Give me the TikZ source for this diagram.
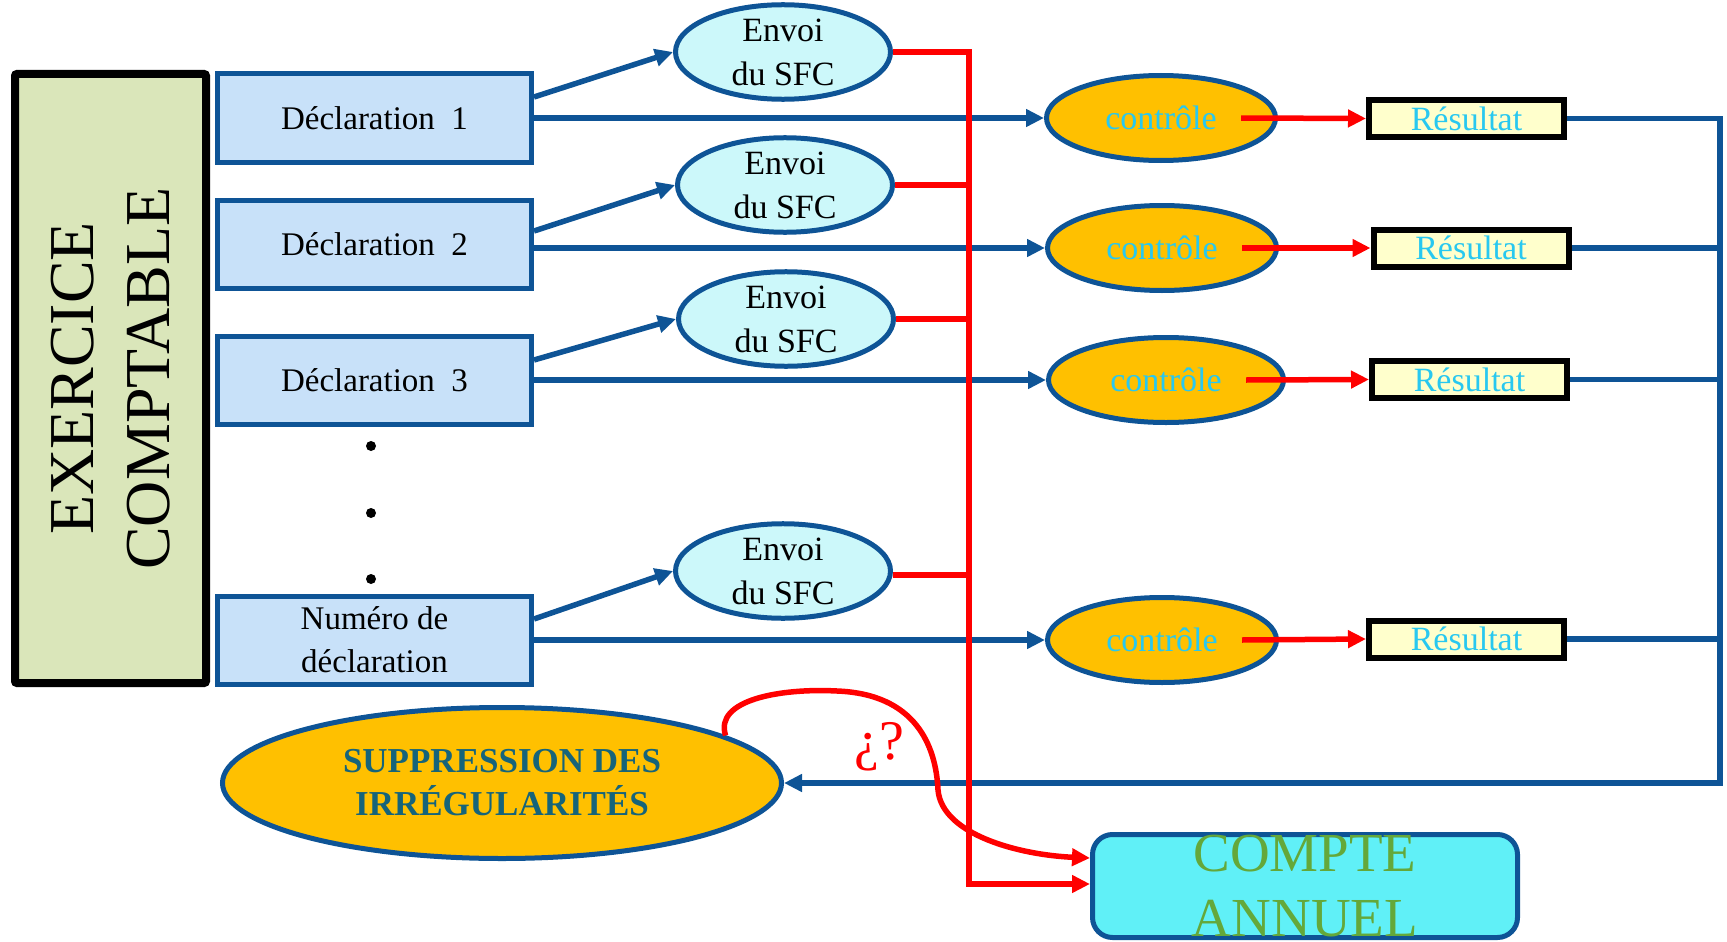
\documentclass[tikz,border=0pt]{standalone}
\usepackage{fontspec}
\setmainfont{Liberation Serif}
\usetikzlibrary{shapes.geometric,arrows.meta,calc}
\definecolor{bl}{RGB}{14,84,150}
\definecolor{declfill}{RGB}{200,225,249}
\definecolor{envfill}{RGB}{204,248,250}
\definecolor{gold}{RGB}{255,192,0}
\definecolor{cyantxt}{RGB}{40,200,240}
\definecolor{resfill}{RGB}{255,255,204}
\definecolor{exfill}{RGB}{218,230,186}
\definecolor{suptxt}{RGB}{22,100,122}
\definecolor{cafill}{RGB}{96,240,247}
\definecolor{catxt}{RGB}{100,168,58}
\definecolor{rd}{RGB}{255,0,0}
\begin{document}
\begin{tikzpicture}[x=1pt,y=-1pt,
  declbox/.style={draw=bl,line width=5pt,fill=declfill,rectangle,minimum width=314pt,minimum height=88pt,inner sep=0pt,align=center,font=\fontsize{33}{43}\selectfont},
  envoi/.style={ellipse,draw=bl,line width=5pt,fill=envfill,minimum width=215pt,minimum height=89pt,inner sep=0pt,align=center,font=\fontsize{34}{44}\selectfont},
  ctrl/.style={ellipse,draw=bl,line width=5pt,fill=gold,minimum width=229pt,minimum height=85pt,inner sep=0pt,text=cyantxt,font=\fontsize{34}{40}\selectfont},
  resbox/.style={rectangle,draw=black,line width=6pt,fill=resfill,minimum width=195pt,minimum height=37pt,inner sep=0pt,text=cyantxt,font=\fontsize{34}{40}\selectfont},
  blueline/.style={draw=bl,line width=5.5pt},
  bluearrow/.style={blueline,-{Triangle[length=18pt,width=17pt]}},
  redline/.style={draw=rd,line width=5.5pt},
  redarrow/.style={redline,-{Triangle[length=18pt,width=17pt]}},
  dotnode/.style={circle,fill=black,inner sep=0pt,minimum size=10pt}
]
\useasboundingbox (0,0) rectangle (1727,942);

% left box
\node[rectangle,draw=black,line width=8pt,fill=exfill,minimum width=609pt,minimum height=191pt,inner sep=0pt,rounded corners=2pt,
  rotate=90,align=center,font=\fontsize{64}{76}\selectfont] (ex) at (110.5,378.5) {EXERCICE\\COMPTABLE};

% declarations
\node[declbox] (d1) at (374.5,118) {Déclaration\ \ 1};
\node[declbox] (d2) at (374.5,244) {Déclaration\ \ 2};
\node[declbox] (d3) at (374.5,380) {Déclaration\ \ 3};
\node[declbox] (d4) at (374.5,640) {Numéro de\\déclaration};

\node[dotnode] (p1) at (371,446) {};
\node[dotnode] (p2) at (371,513) {};
\node[dotnode] (p3) at (371,579) {};

% envoi
\node[envoi] (e1) at (783,52) {Envoi\\du SFC};
\node[envoi] (e2) at (785,185) {Envoi\\du SFC};
\node[envoi] (e3) at (786,319) {Envoi\\du SFC};
\node[envoi] (e4) at (783,571) {Envoi\\du SFC};

% controle
\node[ctrl] (c1) at (1161,118) {contrôle};
\node[ctrl] (c2) at (1162,248) {contrôle};
\node[ctrl,minimum width=235pt] (c3) at (1166,380) {contrôle};
\node[ctrl] (c4) at (1162,640) {contrôle};

% resultat
\node[resbox] (r1) at (1466.5,118.5) {Résultat};
\node[resbox] (r2) at (1471,248) {Résultat};
\node[resbox] (r3) at (1469.5,379.5) {Résultat};
\node[resbox] (r4) at (1466.5,639) {Résultat};

% suppression
\node[ellipse,draw=bl,line width=5pt,fill=gold,minimum width=559pt,minimum height=151pt,inner sep=0pt,align=center,
  text=suptxt,font=\bfseries\fontsize{35}{43}\selectfont] (sup) at (502,783) {SUPPRESSION DES\\IRRÉGULARITÉS};

% compte annuel
\node[rectangle,draw=bl,line width=5pt,fill=cafill,rounded corners=20pt,minimum width=425pt,minimum height=103pt,inner sep=0pt,
  align=center,text=catxt,font=\fontsize{55}{65}\selectfont] (ca) at (1305,886) {COMPTE\\ANNUEL};

\coordinate (rt) at (1720,118.5);
\coordinate (rb) at (1720,783);
\coordinate (busb) at (969,884);

% blue connectors
\draw[bluearrow] ([yshift=21pt]d1.east) -- (e1.west);
\draw[bluearrow] ([yshift=13pt]d2.east) -- (e2.west);
\draw[bluearrow] ([yshift=20pt]d3.east) -- (e3.west);
\draw[bluearrow] ([yshift=21pt]d4.east) -- (e4.west);
\draw[bluearrow] (d1.east) -- (c1.west);
\draw[bluearrow] (d2.east |- c2.west) -- (c2.west);
\draw[bluearrow] (d3.east) -- (c3.west);
\draw[bluearrow] (d4.east) -- (c4.west);

\draw[bluearrow] (r1.east) -- (rt) -- (rb) -- (sup.east);
\draw[blueline] (r2.east) -- (r2.east -| rt);
\draw[blueline] (r3.east) -- (r3.east -| rt);
\draw[blueline] (r4.east) -- (r4.east -| rt);

% red connectors
\draw[redarrow] ([xshift=80pt]c1.center) -- (r1.west);
\draw[redarrow] ([xshift=80pt]c2.center) -- (r2.west);
\draw[redarrow] ([xshift=80pt]c3.center) -- (r3.west);
\draw[redarrow] ([xshift=80pt]c4.center) -- (r4.west);

\draw[redarrow] (e1.east) -| (busb) -- (busb -| ca.west);
\draw[redline] (e2.east) -- (e2.east -| busb);
\draw[redline] (e3.east) -- (e3.east -| busb);
\draw[redline] ([yshift=-4pt]e4.east) -- ([yshift=-4pt]e4.east -| busb);

\draw[redarrow] (sup.12) .. controls (714,700) and (780,688) .. (837,691)
  .. controls (915,694) and (936,745) .. (938,790)
  .. controls (942,835) and (1020,855) .. ([yshift=28pt]ca.west);

\node[text=rd,font=\fontsize{56}{60}\selectfont] (q) at (879,747) {¿?};
\end{tikzpicture}
\end{document}
